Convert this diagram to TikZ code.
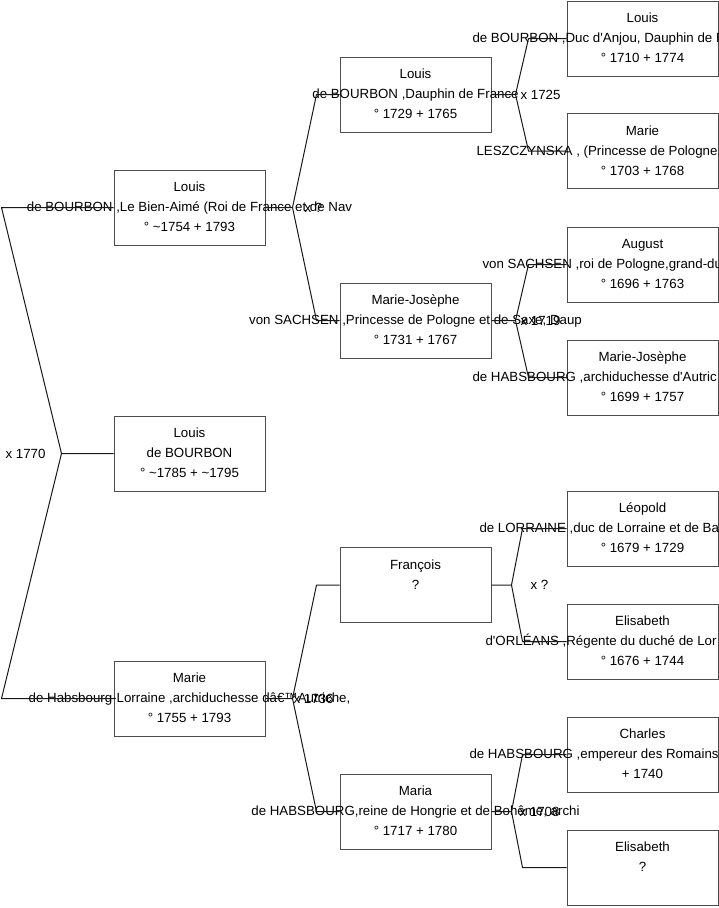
\documentclass[tikz,border=0pt]{standalone}
\usepackage{fontspec}
\setmainfont{Liberation Sans}
\usetikzlibrary{positioning,calc}

\tikzset{
  person/.style={draw=black!70, line width=1pt, minimum width=151pt, minimum height=75pt,
    inner sep=0pt, align=center, font=\fontsize{13.3}{20}\selectfont},
  link/.style={black!90, line width=1pt},
  wed/.style={inner sep=0pt, font=\fontsize{13.3}{16}\selectfont},
}
% three lines of a person box, all centred on the box
\newcommand{\who}[3]{\strut\makebox[0pt]{#1}\\\strut\makebox[0pt]{#2}\\\strut\makebox[0pt]{#3}}
% same, but the middle line starts at a given offset (it runs off the page)
\newcommand{\whocut}[4]{\strut\makebox[0pt]{#1}\\\strut\makebox[0pt][l]{\hspace*{#4}#2}\\\strut\makebox[0pt]{#3}}

\begin{document}
\begin{tikzpicture}[x=1pt, y=-1pt]
    \useasboundingbox (0,0) rectangle (719,908);

    % Generation 0
    \node[person] (louis) at (189.5,453.5) {\who{Louis}{de BOURBON}{° \textasciitilde1785 + \textasciitilde1795}};

    % Generation 1
    \node[person] (louisxvi) at (189.5,207.5) {\who{Louis}{de BOURBON ,Le Bien-Aimé (Roi de France et de Nav}{° \textasciitilde1754 + 1793}};
    \node[person] (marie) at (189.5,698.5) {\who{Marie}{de Habsbourg-Lorraine ,archiduchesse dâ€™Autriche,}{° 1755 + 1793}};

    % Generation 2
    \node[person] (dauphin) at (415.5,94.5) {\who{Louis}{de BOURBON ,Dauphin de France}{° 1729 + 1765}};
    \node[person] (mjsachsen) at (415.5,320.5) {\who{Marie-Josèphe}{von SACHSEN ,Princesse de Pologne et de Saxe, Daup}{° 1731 + 1767}};
    \node[person] (francois) at (415.5,585) {\who{François}{?}{}};
    \node[person] (maria) at (415.5,811.5) {\who{Maria}{de HABSBOURG,reine de Hongrie et de Bohême, archi}{° 1717 + 1780}};

    % Generation 3
    \node[person] (louisxv) at (642.5,38.5) {\whocut{Louis}{de BOURBON ,Duc d\textquotesingle Anjou, Dauphin de F}{° 1710 + 1774}{-170pt}};
    \node[person] (leszczynska) at (642.5,151) {\whocut{Marie}{LESZCZYNSKA , (Princesse de Pologne,}{° 1703 + 1768}{-166pt}};
    \node[person] (august) at (642.5,264.5) {\whocut{August}{von SACHSEN ,roi de Pologne,grand-du}{° 1696 + 1763}{-160pt}};
    \node[person] (mjhabsbourg) at (642.5,377.5) {\whocut{Marie-Josèphe}{de HABSBOURG ,archiduchesse d\textquotesingle Autric}{° 1699 + 1757}{-170pt}};
    \node[person] (leopold) at (642.5,528.5) {\whocut{Léopold}{de LORRAINE ,duc de Lorraine et de Ba}{° 1679 + 1729}{-163pt}};
    \node[person] (orleans) at (642.5,641.5) {\whocut{Elisabeth}{d\textquotesingle ORLÉANS ,Régente du duché de Lor}{° 1676 + 1744}{-157pt}};
    \node[person] (charles) at (642.5,754.5) {\whocut{Charles}{de HABSBOURG ,empereur des Romains}{+ 1740}{-173pt}};
    \node[person] (elisabeth) at (642.5,867.5) {\who{Elisabeth}{?}{}};

    % Parents of Louis (fork to the left)
    \draw[link] (louis.west) -- ++(-52,0) coordinate (fork0)
        -- ($(louisxvi.west)+(-112,0)$) -- (louisxvi.west);
    \draw[link] (fork0) -- ($(marie.west)+(-112,0)$) -- (marie.west);
    \node[wed] (w1770) at ($(fork0)+(-36,0)$) {x 1770};

    % Parents of Louis XVI
    \draw[link] (louisxvi.east) -- ++(27,0) coordinate (forka)
        -- ($(dauphin.west)+(-23,0)$) -- (dauphin.west);
    \draw[link] (forka) -- ($(mjsachsen.west)+(-23,0)$) -- (mjsachsen.west);
    \node[wed] (wa) at ($(forka)+(21,0)$) {x ?};

    % Parents of Marie
    \draw[link] (marie.east) -- ++(27,0) coordinate (forkb)
        -- ($(francois.west)+(-23,0)$) -- (francois.west);
    \draw[link] (forkb) -- ($(maria.west)+(-23,0)$) -- (maria.west);
    \node[wed] (w1736) at ($(forkb)+(21,0)$) {x 1736};

    % Parents of the Dauphin
    \draw[link] (dauphin.east) -- ++(24,0) coordinate (forkc)
        -- ($(louisxv.west)+(-38,0)$) -- (louisxv.west);
    \draw[link] (forkc) -- ($(leszczynska.west)+(-38,0)$) -- (leszczynska.west);
    \node[wed] (w1725) at ($(forkc)+(25,0)$) {x 1725};

    % Parents of Marie-Josephe
    \draw[link] (mjsachsen.east) -- ++(24,0) coordinate (forkd)
        -- ($(august.west)+(-38,0)$) -- (august.west);
    \draw[link] (forkd) -- ($(mjhabsbourg.west)+(-38,0)$) -- (mjhabsbourg.west);
    \node[wed] (w1719) at ($(forkd)+(25,0)$) {x 1719};

    % Parents of Francois
    \draw[link] (francois.east) -- ++(20,0) coordinate (forke)
        -- ($(leopold.west)+(-44,0)$) -- (leopold.west);
    \draw[link] (forke) -- ($(orleans.west)+(-44,0)$) -- (orleans.west);
    \node[wed] (wq) at ($(forke)+(28,0)$) {x ?};

    % Parents of Maria
    \draw[link] (maria.east) -- ++(20,0) coordinate (forkf)
        -- ($(charles.west)+(-44,0)$) -- (charles.west);
    \draw[link] (forkf) -- ($(elisabeth.west)+(-44,0)$) -- (elisabeth.west);
    \node[wed] (w1708) at ($(forkf)+(28,0)$) {x 1708};
\end{tikzpicture}
\end{document}
